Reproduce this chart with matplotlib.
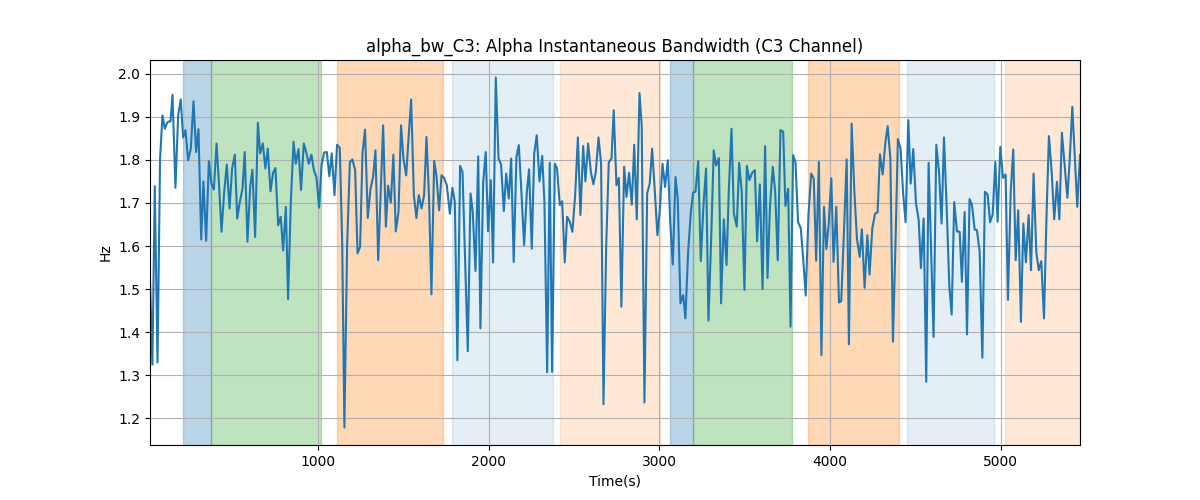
import matplotlib
matplotlib.use("Agg")
import matplotlib.pyplot as plt

time_s = [
    15, 29, 43, 59, 74, 88, 102, 115, 127, 135, 147, 164, 180, 195, 209, 223, 238, 254, 270, 285,
    299, 315, 328, 344, 360, 375, 389, 405, 420, 434, 449, 465, 481, 496, 512, 526, 541, 557, 570, 586,
    602, 615, 631, 647, 660, 676, 691, 705, 721, 736, 750, 766, 781, 795,
    811, 824, 840, 856, 869, 885, 900, 916, 932, 945, 961, 975, 990, 1006, 1020, 1035, 1051, 1066, 1080,
    1096, 1111, 1127, 1141, 1154, 1170, 1186, 1201, 1217, 1231, 1246, 1260, 1275, 1291, 1307, 1322, 1336,
    1352, 1367, 1381, 1397, 1410, 1426, 1441, 1455, 1471, 1486, 1500, 1516, 1529, 1545, 1561, 1576,
    1590, 1606, 1621, 1635, 1650, 1664, 1680, 1693, 1709, 1723, 1738, 1754, 1772, 1787, 1801, 1816,
    1832, 1846, 1861, 1877, 1893, 1906, 1922, 1938, 1951, 1967, 1982, 1996, 2012, 2025, 2041, 2057,
    2072, 2088, 2102, 2117, 2131, 2146, 2162, 2176, 2191, 2207, 2223, 2236, 2252, 2266, 2281, 2297,
    2313, 2326, 2342, 2357, 2371,
    2387, 2400, 2416, 2430, 2445, 2459, 2475, 2490, 2506, 2522, 2537, 2553, 2566, 2582, 2598, 2613,
    2627, 2643, 2658, 2672, 2688, 2703, 2719, 2732, 2748, 2762, 2777, 2793, 2807, 2822, 2838, 2852,
    2867, 2883, 2896, 2912, 2928, 2943, 2957, 2973, 2988, 3002, 3018, 3033, 3049, 3063, 3078, 3094,
    3107, 3123, 3139, 3152,
    3168, 3184, 3197, 3211, 3227, 3242, 3258, 3273, 3287, 3303, 3318, 3332, 3348, 3361, 3377, 3393,
    3406, 3422, 3436, 3453, 3467, 3482, 3498, 3512, 3527, 3543, 3559, 3572, 3588, 3604, 3619, 3633,
    3648, 3664, 3678, 3693, 3709, 3725, 3738, 3754, 3768, 3783, 3797, 3812, 3828, 3842, 3857, 3873,
    3889, 3904, 3918, 3934, 3949,
    3964, 3978, 3991, 4007, 4020, 4036, 4052, 4065, 4081, 4097, 4110, 4126, 4142, 4157, 4173, 4186,
    4202, 4218, 4231, 4247, 4263, 4278, 4292, 4308, 4323, 4337, 4353, 4368, 4384, 4397, 4413, 4427,
    4442, 4458, 4472, 4487, 4503, 4519, 4532, 4548, 4563, 4577, 4593, 4606, 4622, 4638, 4653, 4667,
    4683, 4698, 4712, 4727, 4743,
    4759, 4772, 4788, 4802, 4817, 4831, 4847, 4860, 4876, 4892, 4907, 4923, 4937, 4952, 4968, 4981,
    4997, 5013, 5028, 5042, 5058, 5073, 5087, 5102, 5118, 5132, 5147, 5163, 5177, 5192, 5208, 5222,
    5237, 5253, 5269, 5282, 5298, 5313, 5329, 5343, 5358, 5374, 5390, 5403, 5419, 5433, 5448, 5464,
]

bw_hz = [
    1.52, 1.325, 1.739, 1.330, 1.803, 1.903, 1.872, 1.886, 1.889, 1.889, 1.951, 1.735, 1.903, 1.940, 1.852, 1.869, 1.799, 1.826, 1.936, 1.818,
    1.871, 1.615, 1.750, 1.612, 1.797, 1.745, 1.731, 1.838, 1.737, 1.633, 1.722, 1.789, 1.687, 1.780, 1.812, 1.664, 1.702, 1.733, 1.818, 1.610,
    1.737, 1.777, 1.621, 1.886, 1.815, 1.838, 1.780, 1.826, 1.727, 1.770, 1.781, 1.648, 1.668, 1.590,
    1.691, 1.477, 1.702, 1.842, 1.791, 1.825, 1.730, 1.838, 1.815, 1.791, 1.812, 1.776, 1.760, 1.689, 1.787, 1.817, 1.818, 1.762, 1.815,
    1.718, 1.835, 1.828, 1.610, 1.179, 1.602, 1.794, 1.801, 1.776, 1.583, 1.598, 1.815, 1.870, 1.665, 1.733, 1.760, 1.822,
    1.567, 1.730, 1.880, 1.645, 1.740, 1.701, 1.812, 1.634, 1.679, 1.880, 1.803, 1.764, 1.845, 1.940, 1.718, 1.665,
    1.718, 1.687, 1.718, 1.853, 1.710, 1.488, 1.797, 1.764, 1.683, 1.764, 1.758, 1.741, 1.675, 1.735, 1.702, 1.335,
    1.786, 1.772, 1.571, 1.356, 1.722, 1.679, 1.542, 1.808, 1.409, 1.747, 1.818, 1.634, 1.753, 1.562, 1.991, 1.803,
    1.789, 1.681, 1.768, 1.710, 1.803, 1.563, 1.807, 1.834, 1.726, 1.602, 1.726, 1.778, 1.594, 1.815, 1.857, 1.750,
    1.809, 1.702, 1.307, 1.793, 1.308,
    1.791, 1.780, 1.695, 1.704, 1.562, 1.668, 1.656, 1.633, 1.718, 1.852, 1.672, 1.832, 1.750, 1.838, 1.772, 1.743,
    1.772, 1.852, 1.791, 1.233, 1.602, 1.794, 1.803, 1.915, 1.741, 1.758, 1.459, 1.784, 1.714, 1.770, 1.696, 1.835,
    1.662, 1.955, 1.880, 1.237, 1.722, 1.745, 1.826, 1.726, 1.625, 1.683, 1.791, 1.737, 1.799, 1.656, 1.557, 1.760,
    1.710, 1.467, 1.486, 1.432,
    1.587, 1.679, 1.724, 1.726, 1.797, 1.565, 1.695, 1.780, 1.427, 1.617, 1.822, 1.787, 1.804, 1.467, 1.662, 1.556,
    1.726, 1.872, 1.675, 1.645, 1.793, 1.726, 1.498, 1.786, 1.753, 1.770, 1.776, 1.611, 1.743, 1.500, 1.832, 1.526,
    1.695, 1.784, 1.726, 1.567, 1.869, 1.865, 1.693, 1.733, 1.413, 1.811, 1.794, 1.656, 1.641, 1.571, 1.485, 1.672,
    1.768, 1.757, 1.566, 1.795, 1.347,
    1.691, 1.593, 1.648, 1.757, 1.563, 1.691, 1.469, 1.472, 1.633, 1.801, 1.372, 1.884, 1.726, 1.617, 1.575, 1.639,
    1.503, 1.625, 1.534, 1.641, 1.675, 1.678, 1.813, 1.766, 1.838, 1.878, 1.803, 1.378, 1.625, 1.848, 1.825, 1.726,
    1.655, 1.892, 1.745, 1.825, 1.699, 1.660, 1.549, 1.664, 1.285, 1.793, 1.571, 1.389, 1.835, 1.772, 1.652, 1.852,
    1.687, 1.509, 1.441, 1.702, 1.634,
    1.633, 1.517, 1.679, 1.395, 1.709, 1.695, 1.638, 1.637, 1.587, 1.341, 1.726, 1.719, 1.655, 1.673, 1.795, 1.656,
    1.830, 1.758, 1.766, 1.475, 1.726, 1.824, 1.567, 1.683, 1.424, 1.652, 1.562, 1.672, 1.544, 1.768, 1.587, 1.544,
    1.565, 1.432, 1.687, 1.855, 1.772, 1.662, 1.749, 1.662, 1.863, 1.787, 1.712, 1.795, 1.923, 1.811, 1.691, 1.811,
]

# shaded stages: (start, end, color, alpha)
span_start = [209, 372, 1111, 1785, 2416, 3064, 3197, 3871, 4453, 5023]
span_end = [372, 1014, 1732, 2375, 3002, 3197, 3777, 4404, 4958, 5464]
span_color = ["tab:blue", "tab:green", "tab:orange", "#1f77b4", "tab:orange",
              "tab:blue", "tab:green", "tab:orange", "#1f77b4", "tab:orange"]
span_alpha = [0.3, 0.3, 0.3, 0.12, 0.17, 0.3, 0.3, 0.3, 0.12, 0.17]

fig, ax = plt.subplots(figsize=(12, 5), dpi=100)
for s, e, c, a in zip(span_start, span_end, span_color, span_alpha):
    ax.axvspan(s, e, color=c, alpha=a)
ax.plot(time_s, bw_hz, color="tab:blue", linewidth=1.5)
ax.set_xlim(time_s[0], time_s[-1])
ax.grid(True)
ax.set_title("alpha_bw_C3: Alpha Instantaneous Bandwidth (C3 Channel)")
ax.set_xlabel("Time(s)")
ax.set_ylabel("Hz")
fig.savefig("out.png", dpi=100)
